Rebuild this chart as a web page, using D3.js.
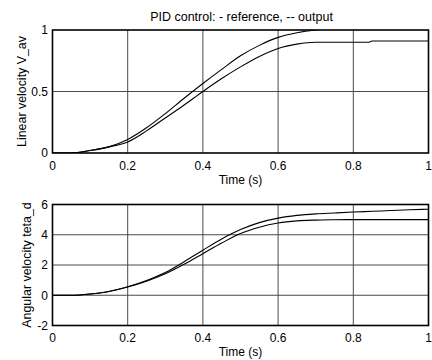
<!DOCTYPE html>
<html><head><meta charset="utf-8">
<script src="https://cdn.jsdelivr.net/npm/d3@7"></script>
<style>body{margin:0;background:#fff}svg{display:block}text{font-family:"Liberation Sans",Arial,sans-serif;fill:#000}</style>
</head><body><svg id="c" width="432" height="360"></svg>
<script>
const title = "PID control: - reference, -- output";
const xTicks = [0, 0.2, 0.4, 0.6, 0.8, 1];
const xTickLabels = ["0", "0.2", "0.4", "0.6", "0.8", "1"];
const topYTicks = [0, 0.5, 1];
const topYTickLabels = ["0", "0.5", "1"];
const botYTicks = [-2, 0, 2, 4, 6];
const botYTickLabels = ["-2", "0", "2", "4", "6"];

const tTop = [0, 0.05, 0.1, 0.15, 0.2, 0.25, 0.3, 0.35, 0.4, 0.45, 0.5, 0.55, 0.6, 0.65, 0.7, 0.75, 0.8, 0.84, 0.85, 0.9, 0.95, 1];
const linRef = [0, 0.0, 0.02, 0.05, 0.11, 0.205, 0.32, 0.445, 0.565, 0.68, 0.79, 0.875, 0.94, 0.978, 1.0, 1.01, 1.01, 1.01, 1.01, 1.01, 1.01, 1.01];
const linOut = [0, 0.0, 0.02, 0.05, 0.09, 0.18, 0.285, 0.39, 0.50, 0.605, 0.70, 0.785, 0.85, 0.885, 0.90, 0.90, 0.90, 0.90, 0.91, 0.91, 0.91, 0.91];

const tBot = [0, 0.05, 0.1, 0.15, 0.2, 0.25, 0.3, 0.35, 0.4, 0.45, 0.5, 0.55, 0.6, 0.65, 0.7, 0.75, 0.8, 0.85, 0.9, 0.95, 1];
const angA = [0, 0.0, 0.08, 0.25, 0.56, 0.97, 1.5, 2.22, 2.98, 3.72, 4.34, 4.8, 5.1, 5.28, 5.38, 5.44, 5.5, 5.55, 5.6, 5.65, 5.69];
const angB = [0, 0.0, 0.08, 0.25, 0.54, 0.93, 1.42, 2.05, 2.75, 3.45, 4.08, 4.5, 4.78, 4.92, 4.97, 4.99, 5.0, 5.0, 5.0, 5.0, 5.0];

const svg = d3.select("#c");
const L = 52.5, R = 428.5;
const x = d3.scaleLinear().domain([0, 1]).range([L, R]);

function panel(id, top, bottom, yDomain, yTicks, yLabels, series, tArr, ylab, ylabOff, xlabOff) {
  const y = d3.scaleLinear().domain(yDomain).range([bottom, top]);
  const g = svg.append("g");
  g.append("clipPath").attr("id", id).append("rect")
    .attr("x", L).attr("y", top).attr("width", R - L).attr("height", bottom - top);
  g.selectAll(".gx").data(xTicks.slice(1, -1)).enter().append("line")
    .attr("x1", d => x(d)).attr("x2", d => x(d)).attr("y1", top).attr("y2", bottom)
    .attr("stroke", "#4a4a4a").attr("stroke-width", 1);
  g.selectAll(".gy").data(yTicks.slice(1, -1)).enter().append("line")
    .attr("y1", d => y(d)).attr("y2", d => y(d)).attr("x1", L).attr("x2", R)
    .attr("stroke", "#4a4a4a").attr("stroke-width", 1);
  const line = d3.line().x((d, i) => x(tArr[i])).y(d => y(d)).curve(d3.curveMonotoneX);
  series.forEach(s => {
    g.append("path").datum(s).attr("d", line).attr("fill", "none")
      .attr("stroke", "#000").attr("stroke-width", 1.1).attr("clip-path", `url(#${id})`);
  });
  g.append("rect").attr("x", L).attr("y", top).attr("width", R - L).attr("height", bottom - top)
    .attr("fill", "none").attr("stroke", "#000").attr("stroke-width", 1.6);
  g.selectAll(".xl").data(xTicks).enter().append("text")
    .attr("x", d => x(d)).attr("y", bottom + 16.5).attr("text-anchor", "middle")
    .attr("font-size", 12).text((d, i) => xTickLabels[i]);
  g.selectAll(".yl").data(yTicks).enter().append("text")
    .attr("x", L - 4.5).attr("y", d => y(d) + 4.3).attr("text-anchor", "end")
    .attr("font-size", 12).text((d, i) => yLabels[i]);
  g.append("text").attr("x", (L + R) / 2).attr("y", bottom + xlabOff).attr("text-anchor", "middle")
    .attr("font-size", 12).text("Time (s)");
  g.append("text").attr("transform", `translate(${L - ylabOff},${(top + bottom) / 2}) rotate(-90)`)
    .attr("text-anchor", "middle").attr("font-size", 12.4).text(ylab);
}

panel("cp1", 30, 153, [0, 1], topYTicks, topYTickLabels, [linRef, linOut], tTop, "Linear velocity V_av", 26.5, 31);
panel("cp2", 204.5, 325.5, [-2, 6], botYTicks, botYTickLabels, [angA, angB], tBot, "Angular velocity teta_d", 22, 30);

svg.append("text").attr("x", (L + R) / 2 + 1).attr("y", 20.5).attr("text-anchor", "middle")
  .attr("font-size", 12.5).text(title);
</script></body></html>
